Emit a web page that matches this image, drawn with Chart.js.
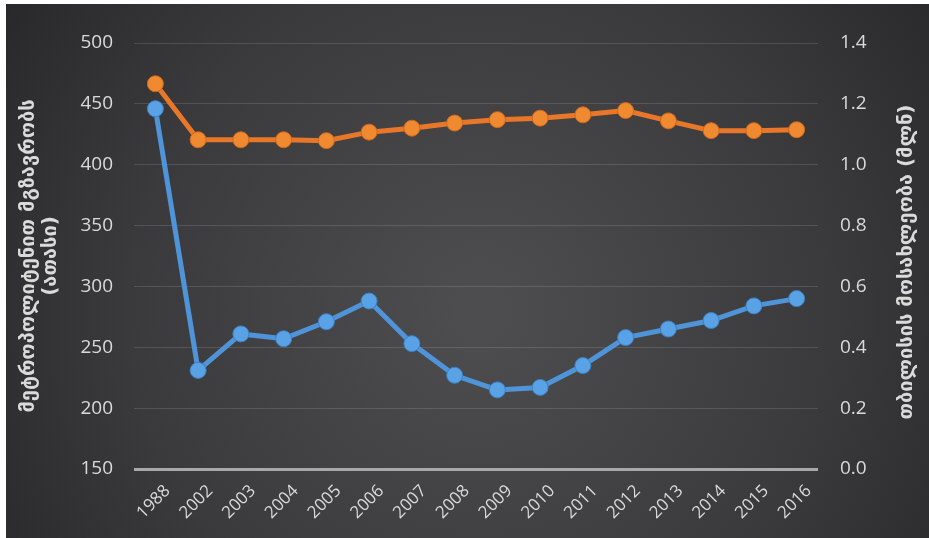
<!DOCTYPE html>
<html>
<head>
<meta charset="utf-8">
<script src="https://cdn.jsdelivr.net/npm/chart.js@4.4.1/dist/chart.umd.min.js"></script>
<style>
    html, body { margin: 0; padding: 0; background: #fff; }
    #wrap { width: 929px; height: 538px; position: relative; }
</style>
</head>
<body>
<div id="wrap"><canvas id="chart" width="929" height="538"></canvas></div>
<script>
// data
const years = ['1988', '2002', '2003', '2004', '2005', '2006', '2007', '2008',
    '2009', '2010', '2011', '2012', '2013', '2014', '2015', '2016'];
const metroPassengers = [446, 231, 261, 257, 271, 288, 253, 227,
    215, 217, 235, 258, 265, 272, 284, 290];
const tbilisiPopulation = [1.266, 1.082, 1.082, 1.082, 1.079, 1.107, 1.120, 1.137,
    1.148, 1.153, 1.164, 1.178, 1.144, 1.112, 1.112, 1.115];
const leftTitle = ['მეტროპოლიტენით მგზავრობს', '(ათასი)'];
const rightTitle = 'თბილისის მოსახლეობა (მლნ)';

const FONT = "'Open Sans', 'DejaVu Sans', sans-serif";
const GEO_FONT = "'DejaVu Sans', sans-serif";
const TEXT = '#dadada';

// dark radial background, with the thin white margin on top and left
const backgroundPlugin = {
    id: 'darkBackground',
    beforeDraw(chart) {
        const ctx = chart.ctx;
        ctx.save();
        ctx.fillStyle = '#ffffff';
        ctx.fillRect(0, 0, chart.width, chart.height);
        const g = ctx.createRadialGradient(480, 310, 20, 480, 310, 620);
        g.addColorStop(0, '#4d4d4f');
        g.addColorStop(0.55, '#3a3a3c');
        g.addColorStop(1, '#242426');
        ctx.fillStyle = g;
        ctx.fillRect(6, 4, chart.width - 6, chart.height - 4);
        ctx.restore();
    }
};

// right axis title reads bottom to top like the original
const rightTitlePlugin = {
    id: 'rightTitle',
    afterDraw(chart) {
        const ctx = chart.ctx;
        ctx.save();
        ctx.translate(907, 262);
        ctx.rotate(-Math.PI / 2);
        ctx.font = 'bold 20px ' + GEO_FONT;
        ctx.fillStyle = TEXT;
        ctx.textAlign = 'center';
        ctx.textBaseline = 'middle';
        ctx.fillText(rightTitle, 0, 0);
        ctx.restore();
    }
};

const ctx = document.getElementById('chart').getContext('2d');
new Chart(ctx, {
    type: 'line',
    data: {
        labels: years,
        datasets: [{
            label: 'metro',
            data: metroPassengers,
            yAxisID: 'y',
            borderColor: '#4f94d8',
            backgroundColor: '#5aa2e6',
            pointBackgroundColor: '#5aa2e6',
            pointBorderColor: '#3d80c4',
            borderWidth: 5,
            pointRadius: 8,
            pointBorderWidth: 1,
            tension: 0
        }, {
            label: 'population',
            data: tbilisiPopulation,
            yAxisID: 'y1',
            borderColor: '#e8772a',
            backgroundColor: '#f08a30',
            pointBackgroundColor: '#f08a30',
            pointBorderColor: '#cf661c',
            borderWidth: 5,
            pointRadius: 8,
            pointBorderWidth: 1,
            tension: 0
        }]
    },
    options: {
        responsive: false,
        animation: false,
        layout: { padding: { top: 43, left: 0, right: 0, bottom: 0 } },
        plugins: {
            legend: { display: false },
            tooltip: { enabled: false }
        },
        scales: {
            x: {
                offset: true,
                grid: { display: false },
                border: { display: false },
                ticks: {
                    color: TEXT,
                    font: { family: FONT, size: 17 },
                    minRotation: 45,
                    maxRotation: 45,
                    autoSkip: false,
                    labelOffset: 12,
                    padding: 4
                },
                afterFit(scale) { scale.height = 69; }
            },
            y: {
                position: 'left',
                min: 150,
                max: 500,
                border: { display: false },
                grid: {
                    drawTicks: false,
                    color: c => c.tick && c.tick.value === 150 ? '#a8a8a8' : 'rgba(255,255,255,0.13)',
                    lineWidth: c => c.tick && c.tick.value === 150 ? 3 : 1
                },
                ticks: {
                    stepSize: 50,
                    color: TEXT,
                    padding: 21,
                    font: { family: FONT, size: 19 }
                },
                title: {
                    display: true,
                    text: leftTitle,
                    color: TEXT,
                    padding: { top: 18, bottom: 0 },
                    font: { family: GEO_FONT, size: 20, weight: 'bold', lineHeight: 1.1 }
                },
                afterFit(scale) { scale.width = 134; }
            },
            y1: {
                position: 'right',
                min: 0,
                max: 1.4,
                border: { display: false },
                grid: { display: false, drawTicks: false },
                ticks: {
                    stepSize: 0.2,
                    color: TEXT,
                    padding: 22,
                    font: { family: FONT, size: 19 },
                    callback: v => v.toFixed(1)
                },
                afterFit(scale) { scale.width = 111; }
            }
        }
    },
    plugins: [backgroundPlugin, rightTitlePlugin]
});
</script>
</body>
</html>
